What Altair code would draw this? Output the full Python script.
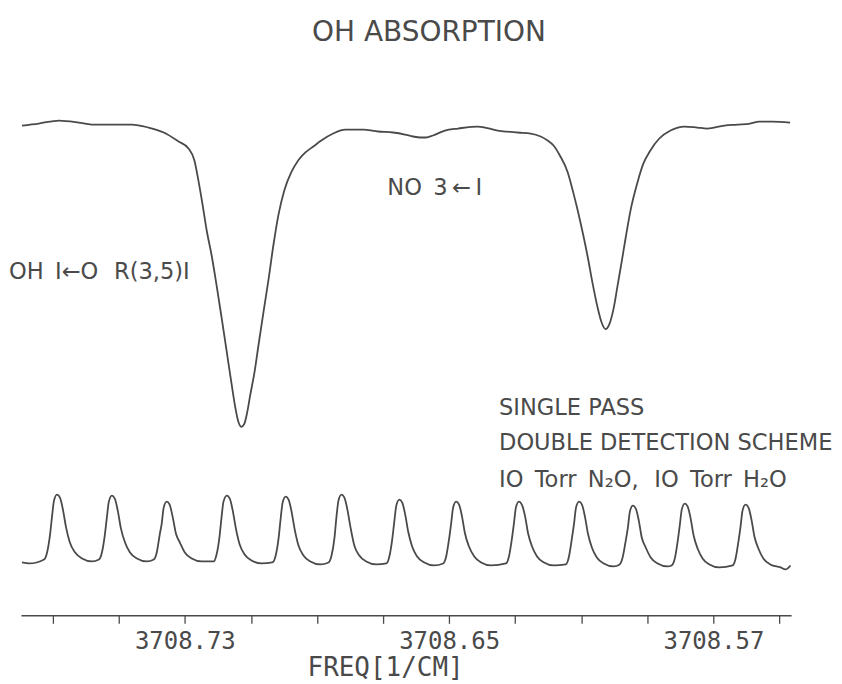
import altair as alt
import pandas as pd

# --- absorption trace (frequency in cm^-1, detector signal, arb. units) ---
abs_freq = [3708.7793, 3708.7742, 3708.7681, 3708.7621, 3708.7582, 3708.7461, 3708.7410,
            3708.7364, 3708.7319, 3708.7289, 3708.7271, 3708.7259, 3708.7246, 3708.7234,
            3708.7219, 3708.7204, 3708.7189, 3708.7174, 3708.7159, 3708.7147, 3708.7138,
            3708.7129, 3708.7120, 3708.7111, 3708.7102, 3708.7089, 3708.7077, 3708.7062,
            3708.7047, 3708.7032, 3708.7017, 3708.6999, 3708.6978, 3708.6957, 3708.6935,
            3708.6911, 3708.6887, 3708.6851, 3708.6815, 3708.6760, 3708.6715, 3708.6670,
            3708.6634, 3708.6609, 3708.6588, 3708.6570, 3708.6549, 3708.6513, 3708.6473,
            3708.6413, 3708.6353, 3708.6292, 3708.6253, 3708.6223, 3708.6202, 3708.6184,
            3708.6165, 3708.6141, 3708.6126, 3708.6111, 3708.6096, 3708.6081, 3708.6066,
            3708.6051, 3708.6039, 3708.6027, 3708.6015, 3708.6002, 3708.5990, 3708.5978,
            3708.5966, 3708.5951, 3708.5930, 3708.5912, 3708.5891, 3708.5864, 3708.5830,
            3708.5788, 3708.5749, 3708.5719, 3708.5667, 3708.5628, 3708.5589, 3708.5562,
            3708.5522, 3708.5468]
abs_signal = [0.982, 0.986, 0.992, 0.988, 0.984, 0.984, 0.978, 0.968, 0.950, 0.936,
              0.912, 0.872, 0.822, 0.772, 0.722, 0.662, 0.598, 0.532, 0.466, 0.416,
              0.388, 0.378, 0.384, 0.408, 0.442, 0.488, 0.542, 0.608, 0.672, 0.742,
              0.802, 0.852, 0.888, 0.912, 0.928, 0.940, 0.952, 0.966, 0.974, 0.974,
              0.970, 0.968, 0.964, 0.960, 0.958, 0.958, 0.962, 0.972, 0.976, 0.980,
              0.972, 0.968, 0.966, 0.960, 0.952, 0.942, 0.922, 0.888, 0.852, 0.812,
              0.768, 0.720, 0.666, 0.618, 0.588, 0.574, 0.584, 0.616, 0.662, 0.708,
              0.756, 0.812, 0.868, 0.906, 0.932, 0.956, 0.972, 0.980, 0.978, 0.976,
              0.982, 0.984, 0.986, 0.990, 0.990, 0.988]

# --- etalon fringe trace (13 fringes) ---
fringe_freq = [
    3708.7793, 3708.7771,
    3708.7726, 3708.7717, 3708.7708, 3708.7702, 3708.7696, 3708.7687, 3708.7678, 3708.7669, 3708.7660, 3708.7648, 3708.7632, 3708.7611, 3708.7581,
    3708.7560, 3708.7551, 3708.7542, 3708.7536, 3708.7530, 3708.7521, 3708.7512, 3708.7503, 3708.7494, 3708.7481, 3708.7466, 3708.7445, 3708.7415,
    3708.7394, 3708.7385, 3708.7376, 3708.7370, 3708.7364, 3708.7355, 3708.7346, 3708.7337, 3708.7327, 3708.7315, 3708.7300, 3708.7279, 3708.7249,
    3708.7213, 3708.7204, 3708.7195, 3708.7189, 3708.7183, 3708.7173, 3708.7164, 3708.7155, 3708.7146, 3708.7134, 3708.7119, 3708.7098, 3708.7068,
    3708.7035, 3708.7025, 3708.7016, 3708.7010, 3708.7004, 3708.6995, 3708.6986, 3708.6977, 3708.6968, 3708.6956, 3708.6941, 3708.6920, 3708.6890,
    3708.6865, 3708.6856, 3708.6847, 3708.6841, 3708.6835, 3708.6826, 3708.6817, 3708.6808, 3708.6799, 3708.6787, 3708.6772, 3708.6751, 3708.6720,
    3708.6690, 3708.6681, 3708.6672, 3708.6666, 3708.6660, 3708.6651, 3708.6642, 3708.6633, 3708.6624, 3708.6612, 3708.6597, 3708.6575, 3708.6545,
    3708.6518, 3708.6509, 3708.6500, 3708.6494, 3708.6488, 3708.6479, 3708.6470, 3708.6461, 3708.6452, 3708.6440, 3708.6424, 3708.6403, 3708.6373,
    3708.6328, 3708.6319, 3708.6310, 3708.6304, 3708.6298, 3708.6289, 3708.6280, 3708.6270, 3708.6261, 3708.6249, 3708.6234, 3708.6213, 3708.6183,
    3708.6147, 3708.6138, 3708.6129, 3708.6122, 3708.6116, 3708.6107, 3708.6098, 3708.6089, 3708.6080, 3708.6068, 3708.6053, 3708.6032, 3708.6002,
    3708.5984, 3708.5975, 3708.5965, 3708.5959, 3708.5953, 3708.5944, 3708.5935, 3708.5926, 3708.5917, 3708.5905, 3708.5890, 3708.5869, 3708.5839,
    3708.5827, 3708.5817, 3708.5808, 3708.5802, 3708.5796, 3708.5787, 3708.5778, 3708.5769, 3708.5760, 3708.5748, 3708.5733, 3708.5712, 3708.5682,
    3708.5642, 3708.5633, 3708.5624, 3708.5618, 3708.5612, 3708.5603, 3708.5594, 3708.5585, 3708.5576, 3708.5564, 3708.5549, 3708.5528, 3708.5497,
    3708.5482, 3708.5467]
fringe_signal = [
    0.106, 0.104,
    0.112, 0.126, 0.162, 0.198, 0.230, 0.242, 0.236, 0.212, 0.178, 0.146, 0.126, 0.114, 0.108,
    0.112, 0.126, 0.162, 0.196, 0.228, 0.240, 0.234, 0.210, 0.176, 0.146, 0.126, 0.114, 0.108,
    0.112, 0.126, 0.162, 0.184, 0.216, 0.228, 0.222, 0.198, 0.164, 0.146, 0.126, 0.114, 0.108,
    0.108, 0.122, 0.158, 0.196, 0.228, 0.240, 0.234, 0.210, 0.176, 0.142, 0.122, 0.110, 0.104,
    0.106, 0.120, 0.156, 0.194, 0.226, 0.238, 0.232, 0.208, 0.174, 0.140, 0.120, 0.108, 0.102,
    0.106, 0.120, 0.156, 0.198, 0.230, 0.242, 0.236, 0.212, 0.178, 0.140, 0.120, 0.108, 0.102,
    0.104, 0.118, 0.154, 0.188, 0.220, 0.232, 0.226, 0.202, 0.168, 0.138, 0.118, 0.106, 0.100,
    0.104, 0.118, 0.154, 0.184, 0.216, 0.228, 0.222, 0.198, 0.164, 0.138, 0.118, 0.106, 0.100,
    0.104, 0.118, 0.154, 0.184, 0.216, 0.228, 0.222, 0.198, 0.164, 0.138, 0.118, 0.106, 0.100,
    0.102, 0.116, 0.152, 0.184, 0.216, 0.228, 0.222, 0.198, 0.164, 0.136, 0.116, 0.104, 0.098,
    0.102, 0.116, 0.152, 0.176, 0.208, 0.220, 0.214, 0.190, 0.156, 0.136, 0.116, 0.104, 0.098,
    0.100, 0.114, 0.150, 0.180, 0.212, 0.224, 0.218, 0.194, 0.160, 0.134, 0.114, 0.102, 0.096,
    0.100, 0.114, 0.150, 0.178, 0.210, 0.222, 0.216, 0.192, 0.158, 0.134, 0.114, 0.102, 0.096,
    0.092, 0.100]

# --- axis ticks ---
tick_values = [3708.77, 3708.75, 3708.73, 3708.71, 3708.69, 3708.67,
               3708.65, 3708.63, 3708.61, 3708.59, 3708.57, 3708.55]
tick_labels = ["3708.73", "3708.65", "3708.57"]

# --- annotations ---
SP = "\u2002"  # en space, wider gaps like the plotter lettering
note_text = ["OH" + SP + "I\u2190O" + SP + "\u2009R(3,5)I",
             "NO" + SP + "3\u2009\u2190\u2009I",
             "SINGLE PASS",
             "DOUBLE DETECTION SCHEME",
             "IO" + SP + "Torr" + SP + "N\u2082O," + SP + "\u2009IO" + SP + "Torr" + SP + "H\u2082O"]
note_freq = [3708.7832, 3708.6687, 3708.6349, 3708.6349, 3708.6349]
note_signal = [0.688, 0.856, 0.416, 0.346, 0.272]

INK = "#4a4a4a"

traces = pd.concat([
    pd.DataFrame({"freq": abs_freq, "signal": abs_signal, "trace": "absorption",
                  "idx": range(len(abs_freq))}),
    pd.DataFrame({"freq": fringe_freq, "signal": fringe_signal, "trace": "etalon",
                  "idx": range(len(fringe_freq))}),
])
notes = pd.DataFrame({"freq": note_freq, "signal": note_signal, "text": note_text})

xscale = alt.Scale(domain=[3708.5465, 3708.7796], reverse=True, nice=False, zero=False)
yscale = alt.Scale(domain=[0, 1.112], nice=False, zero=False)

label_expr = ("indexof(" + str(tick_labels) + ", format(datum.value, '.2f')) >= 0"
              " ? format(datum.value, '.2f') : ''")

lines = alt.Chart(traces).mark_line(
    color=INK, strokeWidth=1.8, interpolate="monotone"
).encode(
    x=alt.X("freq:Q", scale=xscale, title="FREQ[1/CM]",
            axis=alt.Axis(values=tick_values, labelExpr=label_expr, grid=False,
                          labelOverlap=False, titleX=365, titleAlign="center")),
    y=alt.Y("signal:Q", scale=yscale, axis=None),
    detail="trace:N",
    order="idx:Q",
)

text = alt.Chart(notes).mark_text(
    align="left", baseline="middle", font="DejaVu Sans", fontSize=22.6, color=INK
).encode(
    x=alt.X("freq:Q", scale=xscale),
    y=alt.Y("signal:Q", scale=yscale),
    text="text:N",
)

chart = alt.layer(lines, text).properties(
    width=772, height=556,
    title=alt.TitleParams("OH ABSORPTION", font="DejaVu Sans", fontSize=28,
                          fontWeight="normal", color=INK, offset=14, dx=23),
    padding={"left": 1, "right": 1, "top": 10, "bottom": 2},
).configure_view(stroke=None).configure_axis(
    domainColor=INK, domainWidth=1.5, tickColor=INK, tickWidth=1.3, tickSize=8,
    labelFont="DejaVu Sans Mono", labelFontSize=24, labelColor=INK, labelPadding=6,
    titleFont="DejaVu Sans Mono", titleFontSize=26, titleFontWeight="normal",
    titleColor=INK, titlePadding=1,
)

chart.save("out.html", embed_options={"renderer": "svg", "actions": False})
